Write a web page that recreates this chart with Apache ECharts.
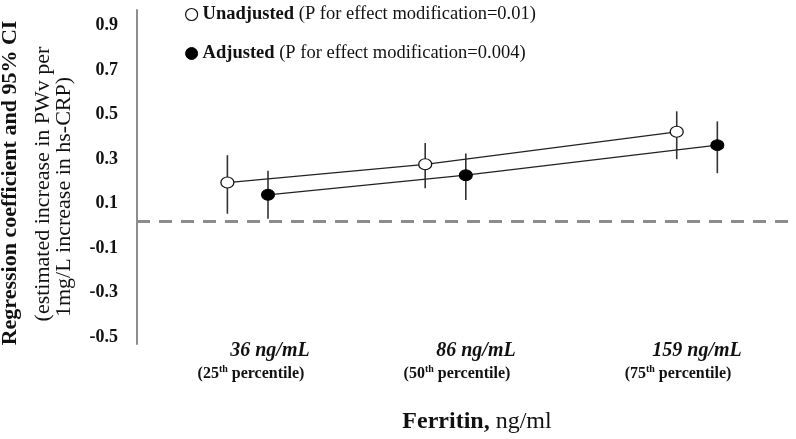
<!DOCTYPE html>
<html>
<head>
<meta charset="utf-8">
<script src="https://cdn.jsdelivr.net/npm/echarts@6/dist/echarts.min.js"></script>
<style>html,body{margin:0;padding:0;background:#fff;}#c{width:796px;height:439px;}</style>
</head>
<body>
<div id="c"></div>
<script>
// ---- data ----
const categories = ['36 ng/mL', '86 ng/mL', '159 ng/mL'];
const percentiles = ['25', '50', '75'];
const seriesNames = ['Unadjusted', 'Adjusted'];
const pNotes = ['(P for effect modification=0.01)', '(P for effect modification=0.004)'];
const unadjEst = [0.195, 0.277, 0.423];
const unadjLo  = [0.055, 0.170, 0.300];
const unadjHi  = [0.318, 0.373, 0.515];
const adjEst   = [0.140, 0.228, 0.363];
const adjLo    = [0.032, 0.117, 0.237];
const adjHi    = [0.248, 0.326, 0.470];
const yTicks = [-0.5, -0.3, -0.1, 0.1, 0.3, 0.5, 0.7, 0.9];
const referenceLine = [0.02];

// ---- layout helpers (category positions on a hidden value axis) ----
const catX = [1.69, 4.71, 8.55];
const dodge = 0.31;
const labelX = [1.74, 4.885, 8.26];
const FONT = '"Liberation Serif", "Times New Roman", serif';

function pts(est, sign) { return est.map((v, i) => [catX[i] + sign * dodge, v]); }
function bars(lo, hi, sign) { return lo.map((v, i) => [catX[i] + sign * dodge, v, hi[i]]); }

function renderErr(params, api) {
  const x = api.value(0);
  const a = api.coord([x, api.value(1)]);
  const b = api.coord([x, api.value(2)]);
  return { type: 'line', shape: { x1: a[0], y1: a[1], x2: b[0], y2: b[1] },
           style: { stroke: '#333', lineWidth: 1.6 } };
}

const chart = echarts.init(document.getElementById('c'), null, { renderer: 'canvas' });
chart.setOption({
  animation: false,
  backgroundColor: '#fff',
  grid: { left: 137, right: 4, top: 10, bottom: 94 },
  legend: {
    left: 180, top: 0, orient: 'vertical', itemGap: 20, selectedMode: false,
    itemWidth: 12, itemHeight: 12,
    data: [
      { name: seriesNames[0], icon: 'circle', itemStyle: { color: '#fff', borderColor: '#111', borderWidth: 1.2 } },
      { name: seriesNames[1], icon: 'circle', itemStyle: { color: '#000', borderColor: '#000', borderWidth: 1 } }
    ],
    formatter: name => '{b|' + name + '} {n|' + pNotes[seriesNames.indexOf(name)] + '}',
    textStyle: {
      fontFamily: FONT, fontSize: 18.5, color: '#111', lineHeight: 19,
      rich: {
        b: { fontFamily: FONT, fontSize: 18.5, fontWeight: 'bold', color: '#111', lineHeight: 19 },
        n: { fontFamily: FONT, fontSize: 18.5, color: '#111', lineHeight: 19 }
      }
    }
  },
  xAxis: {
    type: 'value', min: 0, max: 10,
    axisLine: { show: false }, axisTick: { show: false }, splitLine: { show: false },
    name: '{b|Ferritin,}{n| ng/ml}', nameLocation: 'middle', nameGap: 66,
    nameTextStyle: {
      rich: {
        b: { fontFamily: FONT, fontSize: 24, fontWeight: 'bold', color: '#111', padding: [0, 0, 0, 25] },
        n: { fontFamily: FONT, fontSize: 24, color: '#111' }
      }
    },
    axisLabel: {
      customValues: labelX, margin: -7,
      formatter: (v) => {
        let i = 0, d = Infinity;
        labelX.forEach((p, k) => { if (Math.abs(p - v) < d) { d = Math.abs(p - v); i = k; } });
        return '{v|' + categories[i] + '}\n{p|(' + percentiles[i] + '}{s|th}{p| percentile)}';
      },
      rich: {
        v: { fontFamily: FONT, fontSize: 20, fontWeight: 'bold', fontStyle: 'italic', color: '#111', lineHeight: 27, padding: [0, 0, 0, 38] },
        p: { fontFamily: FONT, fontSize: 16, fontWeight: 'bold', color: '#111', lineHeight: 20 },
        s: { fontFamily: FONT, fontSize: 10, fontWeight: 'bold', color: '#111', lineHeight: 20, verticalAlign: 'top' }
      }
    }
  },
  yAxis: {
    type: 'value', min: -0.53, max: 0.97,
    axisLine: { show: true, lineStyle: { color: '#8e8e8e', width: 2 } },
    axisTick: { show: false }, splitLine: { show: false },
    axisLabel: {
      customValues: yTicks, margin: 19,
      formatter: v => v.toFixed(1),
      fontFamily: FONT, fontSize: 18, fontWeight: 'bold', color: '#111'
    }
  },
  graphic: [
    { type: 'text', x: 10, y: 183, rotation: Math.PI / 2,
      style: { text: 'Regression coefficient and 95% CI', font: 'bold 22px ' + FONT, fill: '#111',
               align: 'center', verticalAlign: 'middle', textAlign: 'center', textVerticalAlign: 'middle' } },
    { type: 'text', x: 43, y: 184, rotation: Math.PI / 2,
      style: { text: '(estimated increase in PWv per', font: '22px ' + FONT, fill: '#111',
               align: 'center', verticalAlign: 'middle', textAlign: 'center', textVerticalAlign: 'middle' } },
    { type: 'text', x: 64, y: 197, rotation: Math.PI / 2,
      style: { text: '1mg/L increase in hs-CRP)', font: '22px ' + FONT, fill: '#111',
               align: 'center', verticalAlign: 'middle', textAlign: 'center', textVerticalAlign: 'middle' } }
  ],
  series: [
    { type: 'custom', name: 'ciU', renderItem: renderErr, data: bars(unadjLo, unadjHi, -1),
      encode: { x: 0, y: [1, 2] }, silent: true, z: 1 },
    { type: 'custom', name: 'ciA', renderItem: renderErr, data: bars(adjLo, adjHi, 1),
      encode: { x: 0, y: [1, 2] }, silent: true, z: 1 },
    { type: 'line', name: seriesNames[0], data: pts(unadjEst, -1), z: 3,
      symbol: 'circle', symbolSize: [13, 11], showSymbol: true,
      itemStyle: { color: '#fff', borderColor: '#111', borderWidth: 1.2 },
      lineStyle: { color: '#222', width: 1.3 },
      markLine: {
        silent: true, symbol: 'none', label: { show: false },
        lineStyle: { color: '#8c8c8c', width: 3, type: [13, 9] },
        data: referenceLine.map(v => ({ yAxis: v }))
      } },
    { type: 'line', name: seriesNames[1], data: pts(adjEst, 1), z: 3,
      symbol: 'circle', symbolSize: [13, 11], showSymbol: true,
      itemStyle: { color: '#000', borderColor: '#000', borderWidth: 1 },
      lineStyle: { color: '#222', width: 1.3 } }
  ]
});
</script>
</body>
</html>
